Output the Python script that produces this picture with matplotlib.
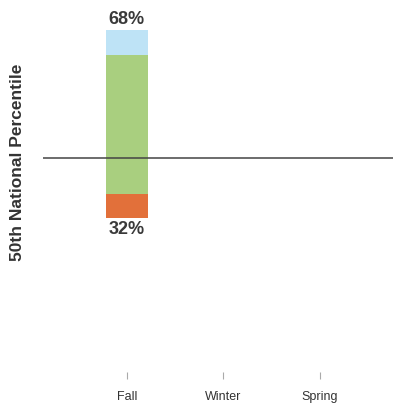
import matplotlib.pyplot as plt

seasons = ['Fall', 'Winter', 'Spring']
# percent of students in each band (Fall only)
above_high = [13]    # light blue, top
above_mid = [55]     # green above the 50th percentile line
below_mid = [19]     # green below the line
below_low = [13]     # orange, bottom
pct_above = ['68%']
pct_below = ['32%']

plt.rcParams['font.family'] = ['Liberation Sans', 'DejaVu Sans']

fig = plt.figure(figsize=(3.93, 4.04), dpi=100)
ax = fig.add_axes([43 / 393, 1 - 372 / 404, 350 / 393, 372 / 404])

x = [0]
w = 0.435
ax.bar(x, above_mid, width=w, bottom=0, color='#A9CF7F')
ax.bar(x, above_high, width=w, bottom=above_mid, color='#BEE3F6')
ax.bar(x, [-v for v in below_mid], width=w, bottom=0, color='#A9CF7F')
ax.bar(x, [-v for v in below_low], width=w, bottom=[-v for v in below_mid], color='#E2703A')

ax.axhline(0, color='#444444', linewidth=1.1)

top = above_high[0] + above_mid[0]
bot = below_mid[0] + below_low[0]
ax.text(0, top + 1.3, pct_above[0], ha='center', va='bottom', fontsize=13,
        fontweight='bold', color='#3a3a3a')
ax.text(0, -bot - 1.3, pct_below[0], ha='center', va='top', fontsize=13,
        fontweight='bold', color='#3a3a3a')

ax.set_xlim(-0.87, 2.76)
ax.set_ylim(-113.8, 84)
ax.set_xticks(range(len(seasons)))
ax.set_xticklabels(seasons, fontsize=9, color='#333333')
ax.tick_params(axis='x', length=5, color='#aaaaaa', width=0.8, pad=9)
ax.set_yticks([])
for s in ax.spines.values():
    s.set_visible(False)

fig.text(18 / 393, 1 - 162 / 404, '50th National Percentile', rotation=90,
         ha='center', va='center', fontsize=12.5, fontweight='bold', color='#333333')

fig.savefig('out.png', dpi=100)
